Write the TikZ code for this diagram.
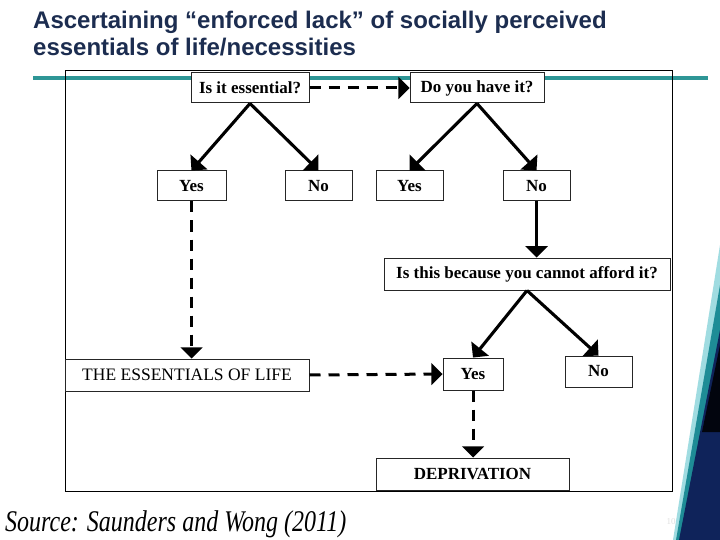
\documentclass[tikz,border=0pt]{standalone}
\usepackage{fontspec}
\setmainfont{Liberation Serif}
\newfontfamily\titlefont{Liberation Sans}
\usepackage{tikz}
\usetikzlibrary{arrows}
\usetikzlibrary{positioning}

\definecolor{titleblue}{RGB}{28,45,80}
\definecolor{ruleteal}{RGB}{46,150,150}
\definecolor{decocyan}{RGB}{160,220,225}
\definecolor{decoteal}{RGB}{30,140,150}
\definecolor{deconavy}{RGB}{15,35,90}

\tikzset{
  box/.style={draw=black!85, line width=1pt, fill=white, inner sep=0pt,
    minimum height=30pt, font=\fontsize{17}{17}\selectfont\bfseries},
  plainbox/.style={box, font=\fontsize{17.5}{17.5}\selectfont},
  solidarrow/.style={-triangle 90, line width=3.1pt},
  dasharrow/.style={-triangle 90, line width=3pt, dash pattern=on 11pt off 8pt},
}

\begin{document}
\begin{tikzpicture}[x=1pt, y=-1pt]
\useasboundingbox (0,0) rectangle (720,540);
\clip (0,0) rectangle (720,540);
\fill[white] (0,0) rectangle (720,540);

% slide decoration, right edge
\fill[decocyan] (720,245) -- (720,540) -- (673,540) -- cycle;
\fill[decoteal] (720,285) -- (720,540) -- (676,540) -- cycle;
\fill[deconavy] (720,330) -- (720,540) -- (679,540) -- cycle;
\fill[black!85!deconavy] (720,345) -- (720,432) -- (702,432) -- cycle;
\node[text=black!12, font=\fontsize{9}{9}\selectfont] (pageno) at (671,522) {10};

% title
\node[anchor=base west, inner sep=0pt, text=titleblue, font=\titlefont\bfseries\fontsize{24}{24}\selectfont] (title1) at (33,29) {Ascertaining “enforced lack” of socially perceived};
\node[anchor=base west, inner sep=0pt, text=titleblue, font=\titlefont\bfseries\fontsize{24}{24}\selectfont] (title2) at (33,56) {essentials of life/necessities};
\draw[ruleteal, line width=4pt] (33,78) -- (708,78);

% frame
\draw[black, line width=1pt] (65,71) rectangle (672,491);

\node[box, minimum width=118pt] (essq) at (250,88) {Is it essential?};
\node[box, minimum width=134pt, right=100pt of essq] (haveq) {Do you have it?};

\node[box, minimum width=69pt] (yes1) at (191.5,186) {Yes};
\node[box, minimum width=67pt, right=58pt of yes1] (no1) {No};
\node[box, minimum width=67pt] (yes2) at (409.5,186) {Yes};
\node[box, minimum width=67pt, right=59pt of yes2] (no2) {No};

\node[box, minimum width=286pt, minimum height=32pt] (affordq) at (527,274) {Is this because you cannot afford it?};
\node[box, minimum width=60pt, minimum height=32pt] (yes3) at (473,374) {Yes};
\node[box, minimum width=67pt, minimum height=31pt] (no3) at (598.5,371.5) {No};

\node[plainbox, minimum width=244pt, minimum height=32pt] (essentials) at (187,375) {THE ESSENTIALS OF LIFE};
\node[box, minimum width=193pt, minimum height=32pt] (depriv) at (472.5,474) {DEPRIVATION};

\node[anchor=base west, inner sep=0pt, font=\itshape\fontsize{24}{24}\selectfont] (source) at (5,531) {\scalebox{1}[1.25]{Source: Saunders and Wong (2011)}};

\draw[solidarrow] (essq.south) -- (yes1.north);
\draw[solidarrow] (essq.south) -- (no1.north);
\draw[solidarrow] (haveq.south) -- (yes2.north);
\draw[solidarrow] (haveq.south) -- (no2.north);
\draw[solidarrow] (no2.south) -- (no2.south |- affordq.north);
\draw[solidarrow] (affordq.south) -- (yes3.north);
\draw[solidarrow] (affordq.south) -- (no3.north);

\draw[dasharrow] (essq.east) -- (haveq.west);
\draw[dasharrow] (yes1.south) -- (yes1.south |- essentials.north);
\draw[dasharrow] (essentials.east) -- (yes3.west);
\draw[dasharrow] (yes3.south) -- (yes3.south |- depriv.north);
\end{tikzpicture}
\end{document}
